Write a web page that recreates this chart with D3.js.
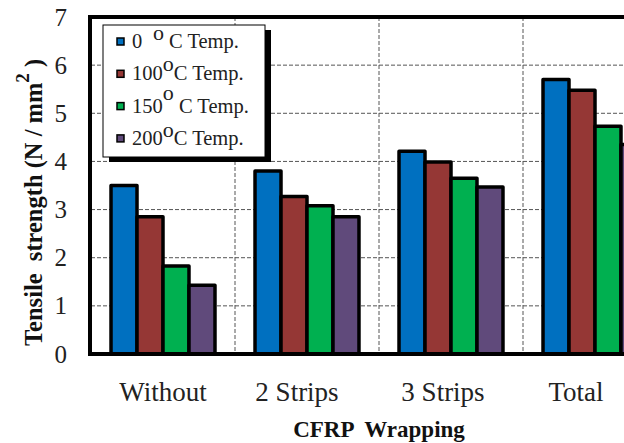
<!DOCTYPE html>
<html>
<head>
<meta charset="utf-8">
<script src="https://cdn.jsdelivr.net/npm/d3@7"></script>
<style>
  body { margin: 0; background: #fff; }
  svg { display: block; }
  svg text { font-family: "Liberation Serif", "Times New Roman", Tinos, "DejaVu Serif", serif; }
  .grid line { stroke: #555; stroke-dasharray: 4,2; stroke-width: 1; }
</style>
</head>
<body>
<script>
// categories along the x axis
var categories = ["Without", "2 Strips", "3 Strips", "Total"];
// temperature series (deg C)
var temps = ["0", "100", "150", "200"];
var tempColors = ["#0070C0", "#953735", "#00B050", "#604A7B"];
// tensile strength values, one array per temperature
var temp0   = [3.50, 3.80, 4.21, 5.70];
var temp100 = [2.85, 3.27, 3.99, 5.48];
var temp150 = [1.83, 3.08, 3.65, 4.73];
var temp200 = [1.43, 2.85, 3.47, 4.35];
var yTicks = [0, 1, 2, 3, 4, 5, 6, 7];

var seriesVals = [temp0, temp100, temp150, temp200];

var W = 624, H = 443;
var margin = {top: 17, left: 91, bottom: 89};
var plotW = 576; // 4 groups, runs past the right edge of the window

var svg = d3.select("body").append("svg")
    .attr("width", W)
    .attr("height", H);

var x0 = d3.scaleBand().domain(categories)
    .range([margin.left, margin.left + plotW]);
var x1 = d3.scaleBand().domain(temps)
    .range([0, x0.bandwidth()])
    .paddingOuter(0.77);
var y = d3.scaleLinear().domain([0, 7]).range([H - margin.bottom, margin.top]);

// horizontal gridlines
svg.append("g")
    .attr("class", "grid")
    .selectAll("line")
    .data(yTicks.slice(1, -1))
  .enter().append("line")
    .attr("x1", margin.left)
    .attr("x2", margin.left + plotW)
    .attr("y1", function(d) { return y(d); })
    .attr("y2", function(d) { return y(d); });

// vertical gridlines between groups
svg.append("g")
    .attr("class", "grid")
    .selectAll("line")
    .data(categories.slice(1))
  .enter().append("line")
    .attr("x1", function(d) { return x0(d); })
    .attr("x2", function(d) { return x0(d); })
    .attr("y1", y(7))
    .attr("y2", y(0));

// bars
var rows = [];
categories.forEach(function(c, i) {
  temps.forEach(function(t, j) {
    rows.push({cat: c, temp: t, v: seriesVals[j][i], color: tempColors[j]});
  });
});

svg.append("g").selectAll("rect")
    .data(rows)
  .enter().append("rect")
    .attr("x", function(d) { return x0(d.cat) + x1(d.temp); })
    .attr("y", function(d) { return y(d.v); })
    .attr("width", x1.bandwidth())
    .attr("height", function(d) { return y(0) - y(d.v); })
    .attr("fill", function(d) { return d.color; })
    .attr("stroke", "#000")
    .attr("stroke-width", 3.5)
    .attr("stroke-linejoin", "round");

// plot frame (thick)
svg.append("rect")
    .attr("x", margin.left - 1)
    .attr("y", y(7))
    .attr("width", plotW + 2)
    .attr("height", y(0) - y(7))
    .attr("fill", "none")
    .attr("stroke", "#000")
    .attr("stroke-width", 4);

// y axis labels
var yAxis = d3.axisLeft(y).tickValues(yTicks).tickFormat(d3.format("d"))
    .tickSize(0).tickPadding(24);
var gy = svg.append("g")
    .attr("transform", "translate(" + margin.left + ",0)")
    .call(yAxis)
    .attr("font-family", null);
gy.select(".domain").remove();
gy.selectAll("text")
    .attr("font-size", "25px")
    .attr("fill", "#222");

// x axis labels
var labelNudge = [0, -10, -8, -19];
var xAxis = d3.axisBottom(x0).tickSize(0).tickPadding(28);
var gx = svg.append("g")
    .attr("transform", "translate(0," + y(0) + ")")
    .call(xAxis)
    .attr("font-family", null);
gx.select(".domain").remove();
gx.selectAll("text")
    .attr("font-size", "27px")
    .attr("fill", "#222")
    .attr("dx", function(d, i) { return labelNudge[i]; });

// x axis title
svg.append("text")
    .attr("x", margin.left + plotW / 2)
    .attr("y", 437)
    .attr("text-anchor", "middle")
    .attr("font-size", "23px")
    .attr("font-weight", "bold")
    .attr("fill", "#111")
    .attr("xml:space", "preserve")
    .text("CFRP  Wrapping");

// y axis title
var yt = svg.append("text")
    .attr("transform", "translate(42,346) rotate(-90)")
    .attr("font-size", "24.5px")
    .attr("font-weight", "bold")
    .attr("fill", "#111")
    .attr("xml:space", "preserve");
yt.append("tspan").text("Tensile  strength (N / mm");
yt.append("tspan").attr("dy", -13).attr("font-size", "19px").text("2");
yt.append("tspan").attr("dy", 13).text(" )");

// legend
var lg = svg.append("g").attr("transform", "translate(103,25)");
lg.append("rect")
    .attr("x", 6).attr("y", 5)
    .attr("width", 162).attr("height", 132)
    .attr("fill", "#000");
lg.append("rect")
    .attr("width", 162).attr("height", 132)
    .attr("fill", "#fff")
    .attr("stroke", "#000")
    .attr("stroke-width", 1);

var supLift = [8, 9, 13, 8];
var preSup = [" ", "", "", ""];
var postSup = [" ", "", " ", ""];
var item = lg.selectAll(".legend")
    .data(temps)
  .enter().append("g")
    .attr("class", "legend")
    .attr("transform", function(d, i) { return "translate(0," + (i * 32.3) + ")"; });

item.append("rect")
    .attr("x", 14).attr("y", 13)
    .attr("width", 7).attr("height", 7)
    .attr("fill", function(d, i) { return tempColors[i]; })
    .attr("stroke", "#000")
    .attr("stroke-width", 1.5);

var it = item.append("text")
    .attr("x", 29).attr("y", 23)
    .attr("font-size", "20.5px")
    .attr("fill", "#222")
    .attr("xml:space", "preserve");
it.append("tspan").text(function(d, i) { return d + preSup[i]; });
it.append("tspan")
    .attr("dy", function(d, i) { return -supLift[i]; })
    .attr("font-size", "22px")
    .text(function(d, i) { return " o".slice(preSup[i] ? 0 : 1); });
it.append("tspan")
    .attr("dy", function(d, i) { return supLift[i]; })
    .text(function(d, i) { return postSup[i] + "C Temp."; });
</script>
</body>
</html>
